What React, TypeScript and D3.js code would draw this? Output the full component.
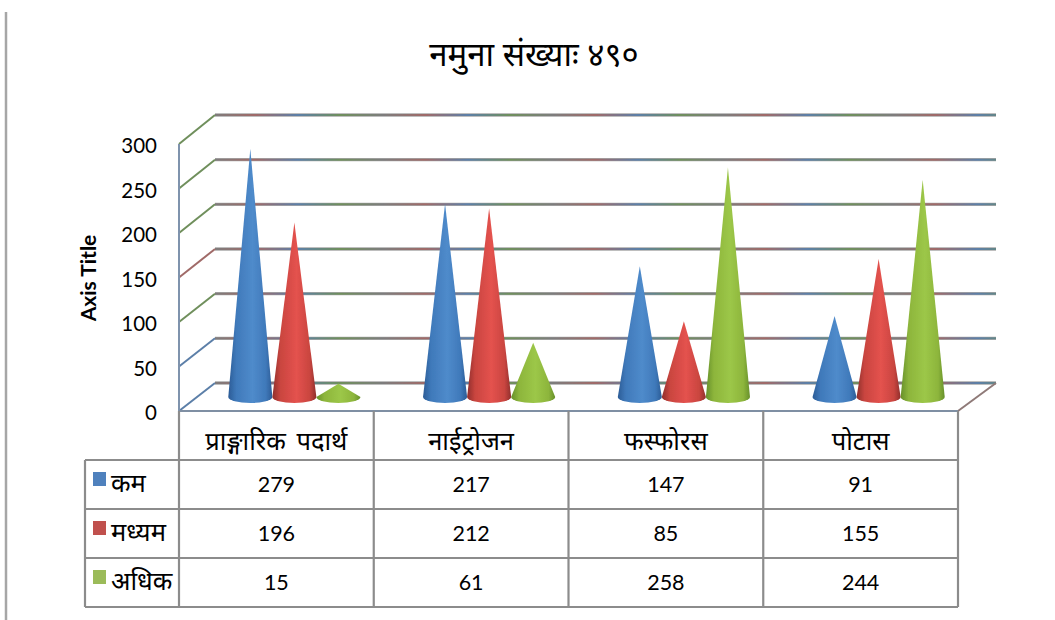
import React, { useEffect, useRef } from "react";
import { scaleBand, scaleLinear, select } from "d3";

const categories = ["प्राङ्गारिक पदार्थ", "नाईट्रोजन", "फस्फोरस", "पोटास"];
const seriesNames = ["कम", "मध्यम", "अधिक"];
const seriesColors = ["#4f81bd", "#c0504d", "#9bbb59"];
const coneMid = ["#3f79ba", "#c9453f", "#8db53c"];
const seriesDark = ["#2c5c96", "#8f2f2c", "#66902a"];
const seriesLight = ["#4f8bcb", "#e4524e", "#9cc748"];
const kam = [279, 217, 147, 91];
const madhyam = [196, 212, 85, 155];
const adhik = [15, 61, 258, 244];
const yTicks = [0, 50, 100, 150, 200, 250, 300];
const wallColors = ["#5c7fa8", "#5c7fa8", "#6f8f5c", "#a06a68", "#6f8f5c", "#6f8f5c", "#6f8f5c"];

const DEVA = "'Noto Sans Devanagari', 'Noto Sans', 'Lohit Devanagari', sans-serif";
const NUM = "Lato, sans-serif";

const App = () => {
  const svgRef = useRef<SVGSVGElement>(null);

  useEffect(() => {
    const svg = select(svgRef.current);
    svg.selectAll("*").remove();

    const series = [kam, madhyam, adhik];

    // SCALES
    const yFront = scaleLinear().domain([0, 300]).range([411, 144]);
    const yBack = scaleLinear().domain([0, 300]).range([383, 115]);
    const yCone = scaleLinear().domain([0, 300]).range([397, 130]);
    const xFront = scaleBand().domain(categories).range([179, 958]);
    const xCone = scaleBand().domain(categories).range([197, 976]);
    const xSeries = scaleBand()
      .domain(seriesNames)
      .range([0, xCone.bandwidth()])
      .paddingInner(0)
      .paddingOuter(0.71);

    const defs = svg.append("defs");
    seriesNames.forEach((_, i) => {
      const g = defs.append("linearGradient").attr("id", `cone${i}`);
      g.append("stop").attr("offset", "0%").attr("stop-color", seriesDark[i]);
      g.append("stop").attr("offset", "18%").attr("stop-color", coneMid[i]);
      g.append("stop").attr("offset", "55%").attr("stop-color", seriesLight[i]);
      g.append("stop").attr("offset", "85%").attr("stop-color", coneMid[i]);
      g.append("stop").attr("offset", "100%").attr("stop-color", seriesDark[i]);
    });
    const streak = defs
      .append("linearGradient")
      .attr("id", "streak")
      .attr("gradientUnits", "userSpaceOnUse")
      .attr("x1", 0)
      .attr("x2", 170)
      .attr("y1", 0)
      .attr("y2", 0)
      .attr("spreadMethod", "repeat");
    ["#6f8f5c", "#7d7d7d", "#a06a68", "#5c7fa8", "#6f8f5c"].forEach((c, i) => {
      streak.append("stop").attr("offset", `${i * 25}%`).attr("stop-color", c);
    });
    defs
      .append("filter")
      .attr("id", "soft")
      .append("feGaussianBlur")
      .attr("stdDeviation", 0.5);

    // left page rule
    svg
      .append("line")
      .attr("x1", 6)
      .attr("x2", 6)
      .attr("y1", 12)
      .attr("y2", 620)
      .attr("stroke", "#a6a6a6")
      .attr("stroke-width", 2.5);

    // TITLE
    svg
      .append("text")
      .attr("x", 534)
      .attr("y", 66)
      .attr("text-anchor", "middle")
      .attr("font-family", DEVA)
      .attr("font-size", 33)
      .attr("fill", "#000")
      .text("नमुना संख्याः ४९०");

    // WALLS AND GRIDLINES
    const chart = svg.append("g").attr("filter", "url(#soft)");

    chart
      .selectAll(".gridbase")
      .data(yTicks)
      .join("line")
      .attr("class", "gridbase")
      .attr("x1", 215)
      .attr("x2", 996)
      .attr("y1", d => yBack(d))
      .attr("y2", d => yBack(d))
      .attr("stroke", "#a8a8a8")
      .attr("stroke-width", 3.4);

    chart
      .selectAll(".grid")
      .data(yTicks)
      .join("line")
      .attr("class", "grid")
      .attr("x1", 215)
      .attr("x2", 996)
      .attr("y1", d => yBack(d))
      .attr("y2", d => yBack(d))
      .attr("stroke", "url(#streak)")
      .attr("stroke-width", 2);

    chart
      .selectAll(".wall")
      .data(yTicks)
      .join("line")
      .attr("class", "wall")
      .attr("x1", 179)
      .attr("x2", 215)
      .attr("y1", d => yFront(d))
      .attr("y2", d => yBack(d))
      .attr("stroke", (_, i) => wallColors[i])
      .attr("stroke-width", 2);

    chart
      .append("line")
      .attr("x1", 179)
      .attr("x2", 179)
      .attr("y1", yFront(300))
      .attr("y2", yFront(0))
      .attr("stroke", "#7f93ad")
      .attr("stroke-width", 2);
    chart
      .append("line")
      .attr("x1", xFront.range()[1])
      .attr("x2", 996)
      .attr("y1", yFront(0))
      .attr("y2", yBack(0))
      .attr("stroke", "#8f7a78")
      .attr("stroke-width", 2);

    // CONES
    const rx = xSeries.bandwidth() / 2;
    const ry = 6;
    series.forEach((values, s) => {
      chart
        .selectAll(`.cone${s}`)
        .data(values)
        .join("path")
        .attr("class", `cone${s}`)
        .attr("fill", `url(#cone${s})`)
        .attr("d", (d, i) => {
          const cx = (xCone(categories[i]) as number) + (xSeries(seriesNames[s]) as number) + rx;
          const base = yCone(0);
          const tip = yCone(d);
          return `M${cx - rx},${base}L${cx},${tip}L${cx + rx},${base}A${rx},${ry} 0 0 1 ${cx - rx},${base}Z`;
        });
    });

    // Y TICK LABELS
    svg
      .selectAll(".ytick")
      .data(yTicks)
      .join("text")
      .attr("class", "ytick")
      .attr("x", 157)
      .attr("y", d => yFront(d) + 9)
      .attr("text-anchor", "end")
      .attr("font-family", NUM)
      .attr("font-size", 20.5)
      .attr("fill", "#000")
      .text(d => d);

    svg
      .append("text")
      .attr("transform", "translate(96,278) rotate(-90)")
      .attr("text-anchor", "middle")
      .attr("font-family", NUM)
      .attr("font-weight", 700)
      .attr("font-size", 21)
      .attr("fill", "#000")
      .text("Axis Title");

    // DATA TABLE
    const tableLeft = 85;
    const rowY = scaleLinear().domain([0, 4]).range([411, 607]);
    const tableLine = "#8c8c8c";

    [0, 1, 2, 3, 4].forEach(r => {
      svg
        .append("line")
        .attr("x1", r < 1 ? 179 : tableLeft)
        .attr("x2", 958)
        .attr("y1", rowY(r))
        .attr("y2", rowY(r))
        .attr("stroke", r < 1 ? "#7f8fa3" : tableLine)
        .attr("stroke-width", 2.2);
    });
    svg
      .selectAll(".col")
      .data(categories)
      .join("line")
      .attr("class", "col")
      .attr("x1", d => xFront(d) as number)
      .attr("x2", d => xFront(d) as number)
      .attr("y1", rowY(0))
      .attr("y2", rowY(4))
      .attr("stroke", tableLine)
      .attr("stroke-width", 2.2);
    svg
      .append("line")
      .attr("x1", 958)
      .attr("x2", 958)
      .attr("y1", rowY(0))
      .attr("y2", rowY(4))
      .attr("stroke", tableLine)
      .attr("stroke-width", 2.2);
    svg
      .append("line")
      .attr("x1", tableLeft)
      .attr("x2", tableLeft)
      .attr("y1", rowY(1))
      .attr("y2", rowY(4))
      .attr("stroke", tableLine)
      .attr("stroke-width", 2.2);

    svg
      .selectAll(".cat")
      .data(categories)
      .join("text")
      .attr("class", "cat")
      .attr("x", d => (xFront(d) as number) + xFront.bandwidth() / 2)
      .attr("y", rowY(0) + 39)
      .attr("text-anchor", "middle")
      .attr("font-family", DEVA)
      .attr("font-size", 25.5)
      .attr("word-spacing", 4)
      .attr("fill", "#000")
      .text(d => d);

    series.forEach((values, s) => {
      const top = rowY(s + 1);
      svg
        .append("rect")
        .attr("x", 93)
        .attr("y", top + 12)
        .attr("width", 13)
        .attr("height", 14)
        .attr("fill", seriesColors[s]);
      svg
        .append("text")
        .attr("x", 111)
        .attr("y", top + 32)
        .attr("font-family", DEVA)
        .attr("font-size", 25.5)
        .attr("fill", "#000")
        .text(seriesNames[s]);
      svg
        .selectAll(`.val${s}`)
        .data(values)
        .join("text")
        .attr("class", `val${s}`)
        .attr("x", (_, i) => (xFront(categories[i]) as number) + xFront.bandwidth() / 2)
        .attr("y", top + 32)
        .attr("text-anchor", "middle")
        .attr("font-family", NUM)
        .attr("font-size", 21.5)
        .attr("fill", "#000")
        .text(d => d);
    });
  }, []);

  return (
    <svg
      ref={svgRef}
      width={1055}
      height={620}
      style={{ position: "absolute", left: 0, top: 0, background: "#fff" }}
    />
  );
};

export default App;
